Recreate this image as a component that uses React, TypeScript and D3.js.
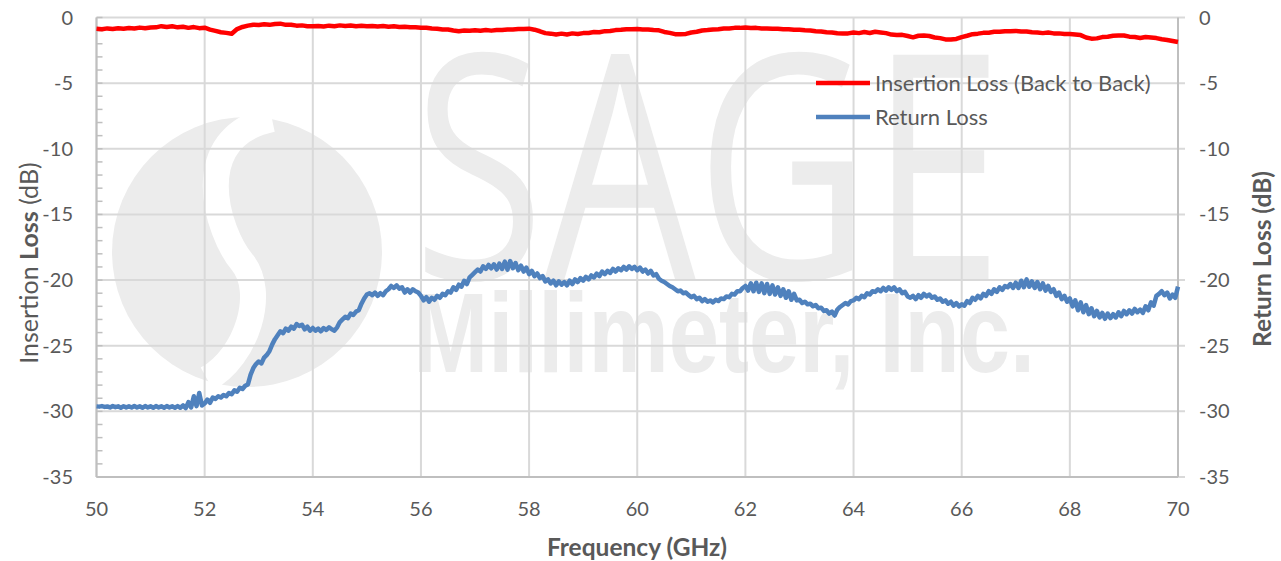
import React from "react";
import * as d3 from "d3";

// ---------- DATA ----------
const xTicks = [50, 52, 54, 56, 58, 60, 62, 64, 66, 68, 70];
const yTicks = [0, -5, -10, -15, -20, -25, -30, -35];
const yMinorTicks = d3.range(-35, 1, 1);

// Insertion loss, 50..70 GHz, step 0.1 GHz
const insertionStart = 50;
const insertionStep = 0.1;
const insertionLoss = [
  -0.85,-0.89,-0.83,-0.88,-0.82,-0.86,-0.80,-0.84,-0.77,-0.82,
  -0.76,-0.75,-0.66,-0.72,-0.67,-0.75,-0.71,-0.79,-0.73,-0.81,
  -0.78,-0.92,-1.02,-1.12,-1.17,-1.24,-0.88,-0.72,-0.62,-0.55,
  -0.57,-0.51,-0.56,-0.49,-0.47,-0.56,-0.55,-0.62,-0.60,-0.66,
  -0.66,-0.64,-0.68,-0.62,-0.66,-0.60,-0.64,-0.61,-0.66,-0.63,
  -0.67,-0.64,-0.68,-0.65,-0.70,-0.67,-0.72,-0.71,-0.75,-0.75,
  -0.78,-0.78,-0.84,-0.85,-0.91,-0.92,-0.99,-1.04,-0.99,-1.01,
  -0.97,-1.01,-0.96,-1.00,-0.95,-0.95,-0.91,-0.91,-0.87,-0.87,
  -0.85,-0.93,-1.05,-1.19,-1.23,-1.30,-1.23,-1.29,-1.21,-1.26,
  -1.19,-1.18,-1.11,-1.12,-1.04,-1.03,-0.96,-0.94,-0.89,-0.89,
  -0.87,-0.91,-0.92,-0.96,-0.98,-1.10,-1.17,-1.27,-1.27,-1.25,
  -1.14,-1.09,-0.99,-0.96,-0.91,-0.89,-0.84,-0.83,-0.79,-0.79,
  -0.76,-0.80,-0.79,-0.83,-0.83,-0.86,-0.85,-0.89,-0.89,-0.93,
  -0.93,-0.97,-0.99,-1.04,-1.07,-1.12,-1.14,-1.20,-1.22,-1.21,
  -1.14,-1.19,-1.11,-1.18,-1.09,-1.14,-1.19,-1.30,-1.34,-1.32,
  -1.41,-1.51,-1.39,-1.38,-1.41,-1.52,-1.57,-1.67,-1.68,-1.63,
  -1.49,-1.39,-1.27,-1.23,-1.17,-1.16,-1.09,-1.09,-1.04,-1.04,
  -1.02,-1.07,-1.07,-1.13,-1.14,-1.19,-1.15,-1.21,-1.21,-1.26,
  -1.25,-1.29,-1.34,-1.52,-1.61,-1.59,-1.49,-1.46,-1.39,-1.37,
  -1.37,-1.46,-1.49,-1.56,-1.49,-1.53,-1.57,-1.66,-1.71,-1.79,
  -1.87,
];

// Return loss, 50..70 GHz, step 0.05 GHz
const returnStart = 50;
const returnStep = 0.05;
const returnLoss = [
  -29.62,-29.64,-29.60,-29.66,-29.63,-29.70,-29.60,-29.68,-29.62,-29.72,-29.61,-29.70,-29.62,-29.71,-29.60,-29.70,-29.62,-29.72,-29.60,-29.70,
  -29.62,-29.72,-29.60,-29.70,-29.62,-29.72,-29.60,-29.70,-29.62,-29.72,-29.60,-29.72,-29.55,-29.75,-29.30,-29.70,-28.85,-29.60,-28.60,-29.55,
  -29.40,-29.10,-29.35,-28.95,-29.05,-28.85,-28.95,-28.75,-28.85,-28.60,-28.70,-28.40,-28.50,-28.20,-28.30,-28.05,-27.95,-27.20,-26.70,-26.40,
  -26.20,-26.35,-25.90,-25.70,-25.40,-24.90,-24.50,-24.20,-23.90,-24.05,-23.70,-23.85,-23.55,-23.70,-23.35,-23.50,-23.40,-23.75,-23.55,-23.85,
  -23.65,-23.85,-23.70,-23.90,-23.65,-23.80,-23.60,-23.75,-23.85,-23.60,-23.20,-23.00,-22.80,-22.90,-22.55,-22.65,-22.40,-22.30,-21.80,-21.40,
  -21.10,-21.00,-21.15,-20.95,-21.20,-21.00,-21.15,-20.85,-20.70,-20.45,-20.60,-20.40,-20.65,-20.55,-20.95,-20.70,-20.95,-20.70,-20.85,-20.95,
  -21.20,-21.55,-21.30,-21.65,-21.35,-21.50,-21.20,-21.35,-21.05,-21.15,-20.85,-20.95,-20.55,-20.75,-20.35,-20.50,-20.05,-20.30,-19.80,-19.60,
  -19.40,-19.20,-19.35,-18.95,-19.15,-18.85,-19.10,-18.80,-19.20,-18.75,-19.15,-18.60,-19.20,-18.55,-19.10,-18.70,-19.25,-18.90,-19.35,-19.05,
  -19.55,-19.30,-19.70,-19.50,-19.85,-19.70,-20.10,-19.95,-20.25,-20.05,-20.40,-20.10,-20.35,-20.15,-20.40,-20.05,-20.30,-19.95,-20.15,-19.85,
  -20.05,-19.75,-19.95,-19.65,-19.80,-19.50,-19.70,-19.35,-19.55,-19.30,-19.45,-19.15,-19.35,-19.10,-19.25,-19.00,-19.20,-18.95,-19.15,-19.00,
  -19.25,-19.05,-19.35,-19.20,-19.50,-19.30,-19.65,-19.55,-19.90,-20.05,-20.15,-20.30,-20.45,-20.55,-20.70,-20.85,-20.80,-21.00,-20.95,-21.15,
  -21.30,-21.20,-21.45,-21.35,-21.60,-21.45,-21.65,-21.55,-21.70,-21.50,-21.60,-21.40,-21.45,-21.25,-21.30,-21.05,-21.10,-20.85,-20.85,-20.60,
  -20.45,-20.80,-20.25,-20.85,-20.20,-20.90,-20.25,-21.00,-20.30,-21.05,-20.40,-21.10,-20.55,-21.20,-20.70,-21.35,-20.85,-21.50,-21.05,-21.55,
  -21.50,-21.75,-21.65,-21.85,-21.80,-22.00,-21.90,-22.15,-22.10,-22.35,-22.30,-22.55,-22.40,-22.70,-22.25,-22.05,-21.90,-21.75,-21.85,-21.60,
  -21.55,-21.35,-21.45,-21.20,-21.30,-21.00,-21.10,-20.85,-20.90,-20.70,-20.85,-20.60,-20.80,-20.55,-20.75,-20.55,-20.85,-20.70,-21.00,-20.90,
  -21.25,-21.35,-21.20,-21.45,-21.15,-21.35,-21.05,-21.25,-21.10,-21.35,-21.25,-21.50,-21.40,-21.65,-21.55,-21.80,-21.65,-21.95,-21.75,-22.00,
  -21.85,-21.95,-21.60,-21.75,-21.35,-21.50,-21.20,-21.40,-21.05,-21.20,-20.85,-21.05,-20.70,-20.90,-20.55,-20.75,-20.45,-20.55,-20.30,-20.60,
  -20.20,-20.60,-20.05,-20.55,-19.95,-20.50,-20.10,-20.60,-20.15,-20.70,-20.25,-20.80,-20.45,-20.90,-20.70,-21.20,-20.95,-21.45,-21.20,-21.65,
  -21.40,-22.00,-21.55,-22.30,-21.70,-22.45,-21.90,-22.60,-22.15,-22.75,-22.35,-22.85,-22.50,-22.95,-22.55,-22.90,-22.60,-22.85,-22.45,-22.75,
  -22.35,-22.60,-22.30,-22.55,-22.20,-22.45,-22.25,-22.50,-22.00,-22.30,-21.70,-21.95,-21.20,-21.05,-20.85,-21.15,-20.95,-21.40,-21.10,-21.35,
  -20.50,
];

const seriesNames = ["Insertion Loss (Back to Back)", "Return Loss"];
const seriesColors = ["#ff0000", "#4f81bd"];

// ---------- LAYOUT ----------
const W = 1281;
const H = 561;
const left = 96.5;
const right = 1178;
const top = 17.5;
const bottom = 477;
const font = "Lato, 'Open Sans', sans-serif";
const textColor = "#595959";
const gridColor = "#d9d9d9";
const axisColor = "#bfbfbf";
const wmColor = "#ececec";

export default function App() {
  const x = d3.scaleLinear().domain([50, 70]).range([left, right]);
  const y = d3.scaleLinear().domain([-35, 0]).range([bottom, top]);

  const ilPts: [number, number][] = insertionLoss.map((v, i) => [insertionStart + i * insertionStep, v]);
  const rlPts: [number, number][] = returnLoss.map((v, i) => [returnStart + i * returnStep, v]);
  const line = d3
    .line<[number, number]>()
    .x((d) => x(d[0]))
    .y((d) => y(d[1]));

  // watermark logo geometry
  const cx = 247, cy = 252, R = 135;

  return (
    <svg width={W} height={H} style={{ display: "block", position: "absolute", left: 0, top: 0 }}>
      <rect width={W} height={H} fill="#ffffff" />
      {/* watermark */}
      <g>
        <circle cx={cx} cy={cy} r={R} fill={wmColor} />
        <path
          d={`M ${cx + 25} ${cy - R + 2}
              C ${cx - 60} ${cy - R + 20}, ${cx - 30} ${cy - 20}, ${cx - 5} ${cy + 10}
              C ${cx + 20} ${cy + 40}, ${cx + 0} ${cy + R - 30}, ${cx - 40} ${cy + R - 8}`}
          fill="none"
          stroke="#ffffff"
          strokeWidth={26}
        />
        <text
          x={413}
          y={279}
          fontFamily="'Open Sans', sans-serif"
          fontWeight={400}
          fontSize={314}
          fill={wmColor}
          textLength={590}
          lengthAdjust="spacingAndGlyphs"
        >
          SAGE
        </text>
        <text
          x={413}
          y={372}
          fontFamily="'Liberation Sans', Arial, sans-serif"
          fontWeight={700}
          fontSize={114}
          fill={wmColor}
          textLength={622}
          lengthAdjust="spacingAndGlyphs"
        >
          Millimeter, Inc.
        </text>
      </g>

      {/* horizontal gridlines */}
      {yTicks.map((t) => (
        <line key={"h" + t} x1={left} x2={right + 7} y1={y(t)} y2={y(t)} stroke={gridColor} strokeWidth={2} />
      ))}
      {/* vertical gridlines */}
      {xTicks.map((t) => (
        <line key={"v" + t} x1={x(t)} x2={x(t)} y1={top} y2={bottom} stroke={gridColor} strokeWidth={2} />
      ))}
      {/* axes */}
      <line x1={left} x2={left} y1={top} y2={bottom} stroke={axisColor} strokeWidth={2} />
      <line x1={right} x2={right} y1={top} y2={bottom} stroke={axisColor} strokeWidth={2} />
      <line x1={left} x2={right} y1={bottom} y2={bottom} stroke={axisColor} strokeWidth={2} />
      {yMinorTicks.map((t) => (
        <line key={"m" + t} x1={left} x2={left + 6} y1={y(t)} y2={y(t)} stroke={axisColor} strokeWidth={1.5} />
      ))}

      {/* series */}
      <path d={line(rlPts) || ""} fill="none" stroke={seriesColors[1]} strokeWidth={4.5} strokeLinejoin="round" />
      <path d={line(ilPts) || ""} fill="none" stroke={seriesColors[0]} strokeWidth={4.5} strokeLinejoin="round" />

      {/* tick labels */}
      {yTicks.map((t) => (
        <text key={"yl" + t} x={73} y={y(t)} dy="0.35em" textAnchor="end" fontFamily={font} fontSize={20} fill={textColor}>
          {t}
        </text>
      ))}
      {yTicks.map((t) => (
        <text key={"yr" + t} x={1199} y={y(t)} dy="0.35em" textAnchor="start" fontFamily={font} fontSize={20} fill={textColor}>
          {t}
        </text>
      ))}
      {xTicks.map((t) => (
        <text key={"xl" + t} x={x(t)} y={509} dy="0.35em" textAnchor="middle" fontFamily={font} fontSize={20} fill={textColor}>
          {t}
        </text>
      ))}

      {/* axis titles */}
      <text x={637} y={547} dy="0.35em" textAnchor="middle" fontFamily={font} fontWeight={700} fontSize={24.5} fill={textColor}>
        Frequency (GHz)
      </text>
      <text
        transform={`translate(29,263) rotate(-90)`}
        dy="0.35em"
        textAnchor="middle"
        fontFamily={font}
        fontSize={25}
        fill={textColor}
      >
        Insertion <tspan fontWeight={700}>Loss</tspan> (dB)
      </text>
      <text
        transform={`translate(1262,259) rotate(-90)`}
        dy="0.35em"
        textAnchor="middle"
        fontFamily={font}
        fontWeight={700}
        fontSize={24.5}
        fill={textColor}
      >
        Return Loss (dB)
      </text>

      {/* legend */}
      {seriesNames.map((n, i) => (
        <g key={n}>
          <line x1={816} x2={870} y1={83 + i * 34} y2={83 + i * 34} stroke={seriesColors[i]} strokeWidth={4.5} />
          <text x={875} y={83 + i * 34} dy="0.35em" fontFamily={font} fontSize={22} fill={textColor}>
            {n}
          </text>
        </g>
      ))}
    </svg>
  );
}
